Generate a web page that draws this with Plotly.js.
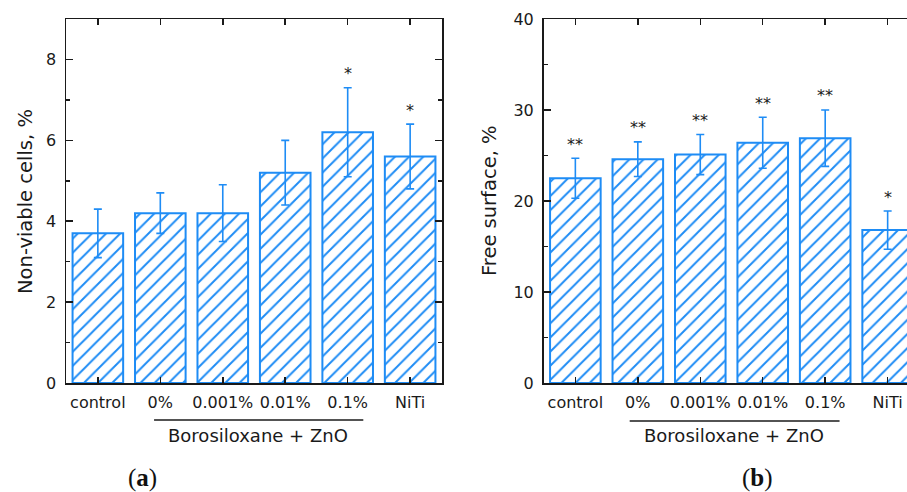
<!DOCTYPE html>
<html>
<head>
<meta charset="utf-8">
<script src="https://cdn.plot.ly/plotly-3.0.1.min.js"></script>
<style>
  html, body { margin: 0; padding: 0; overflow: hidden; background: #fff; }
  #chart { width: 930px; height: 492px; }
</style>
</head>
<body>
<div id="chart"></div>
<script>
// Sample groups (shared by both panels)
const categories = ['control', '0%', '0.001%', '0.01%', '0.1%', 'NiTi'];

// Panel (a): non-viable cells, %
const deadCells = [3.7, 4.2, 4.2, 5.2, 6.2, 5.6];
const deadCellsErr = [0.6, 0.5, 0.7, 0.8, 1.1, 0.8];
const deadCellsMarks = ['', '', '', '', '*', '*'];

// Panel (b): free surface, %
const freeSurface = [22.5, 24.6, 25.1, 26.4, 26.9, 16.8];
const freeSurfaceErr = [2.2, 1.9, 2.2, 2.8, 3.1, 2.1];
const freeSurfaceMarks = ['**', '**', '**', '**', '**', '*'];

const groupLabel = 'Borosiloxane + ZnO';

const W = 930, H = 492;
const BLUE = '#1e8cf5';
const INK = '#1a1a1a';
const TICK_FONT = { family: 'DejaVu Sans', size: 16, color: INK };
const px = v => v / W;
const py = v => 1 - v / H;

function barTrace(values, errs, xa, ya) {
  return {
    type: 'bar',
    x: categories,
    y: values,
    xaxis: xa, yaxis: ya,
    width: 0.81,
    marker: {
      color: '#ffffff',
      line: { color: BLUE, width: 2 },
      pattern: { shape: '/', fgcolor: BLUE, bgcolor: '#ffffff', size: 10, solidity: 0.2, fillmode: 'replace' }
    },
    error_y: { type: 'data', array: errs, visible: true, color: BLUE, thickness: 1.6, width: 4 },
    hoverinfo: 'x+y',
    showlegend: false
  };
}

function xAxis(domain, anchor) {
  return {
    domain: domain, anchor: anchor,
    type: 'category',
    range: [-0.51, 5.51],
    showline: true, linecolor: INK, linewidth: 1.5,
    mirror: 'allticks', ticks: 'inside', ticklen: 6, tickwidth: 1.5, tickcolor: INK,
    tickfont: TICK_FONT, ticklabelstandoff: 4,
    showgrid: false, zeroline: false, fixedrange: true, automargin: false
  };
}

function yAxis(domain, anchor, range, dtick) {
  return {
    domain: domain, anchor: anchor,
    range: range, dtick: dtick, tick0: 0,
    showline: true, linecolor: INK, linewidth: 1.5,
    mirror: 'allticks', ticks: 'inside', ticklen: 7, tickwidth: 1.5, tickcolor: INK,
    minor: { dtick: dtick / 2, ticks: 'inside', ticklen: 4, tickwidth: 1.5, tickcolor: INK, showgrid: false },
    tickfont: TICK_FONT, ticklabelstandoff: 5,
    showgrid: false, zeroline: false, fixedrange: true, automargin: false
  };
}

function starNotes(marks, values, errs, xref, yref) {
  return marks.map((m, i) => ({
    xref: xref, yref: yref, x: categories[i], y: values[i] + errs[i],
    text: m, showarrow: false, xanchor: 'center', yanchor: 'middle', yshift: 14,
    font: { family: 'DejaVu Sans', size: 16, color: INK }
  })).filter(a => a.text);
}

function textNote(xref, x, y, text, font, angle) {
  return { xref: xref, yref: 'paper', x: x, y: y, text: text, textangle: angle || 0,
    showarrow: false, xanchor: 'center', yanchor: 'middle', font: font };
}

const yDom = [py(383), py(19)];
const TITLE_FONT = { family: 'DejaVu Sans', size: 19.5, color: INK };
const GROUP_FONT = { family: 'DejaVu Sans', size: 18, color: INK };
const LETTER_FONT = { family: 'Liberation Serif', size: 25, color: '#111' };

const data = [
  barTrace(deadCells, deadCellsErr, 'x', 'y'),
  barTrace(freeSurface, freeSurfaceErr, 'x2', 'y2')
];

const annotations = [
  ...starNotes(deadCellsMarks, deadCells, deadCellsErr, 'x', 'y'),
  ...starNotes(freeSurfaceMarks, freeSurface, freeSurfaceErr, 'x2', 'y2'),
  // y-axis titles
  textNote('paper', px(25), py(202), 'Non-viable cells, %', TITLE_FONT, -90),
  textNote('paper', px(490), py(201), 'Free surface, %', TITLE_FONT, -90),
  // group labels under the bracket lines
  textNote('x', 2.57, py(435), groupLabel, GROUP_FONT),
  textNote('x2', 2.54, py(435), groupLabel, GROUP_FONT),
  // panel letters
  textNote('paper', px(142), py(478), '(<b>a</b>)', LETTER_FONT),
  textNote('paper', px(757), py(478), '(<b>b</b>)', LETTER_FONT)
];

const shapes = [
  { type: 'line', xref: 'x', yref: 'paper', x0: 0.9, x1: 4.25, y0: py(420), y1: py(420),
    line: { color: INK, width: 1.4 } },
  { type: 'line', xref: 'x2', yref: 'paper', x0: 0.87, x1: 4.23, y0: py(421), y1: py(421),
    line: { color: INK, width: 1.4 } }
];

const layout = {
  width: W, height: H,
  margin: { l: 0, r: 0, t: 0, b: 0 },
  paper_bgcolor: '#fff', plot_bgcolor: '#fff',
  xaxis: xAxis([px(66), px(442)], 'y'),
  yaxis: yAxis(yDom, 'x', [0, 9], 2),
  xaxis2: xAxis([px(543.5), px(919.5)], 'y2'),
  yaxis2: yAxis(yDom, 'x2', [0, 40], 10),
  annotations: annotations,
  shapes: shapes,
  bargap: 0.19
};

Plotly.newPlot('chart', data, layout, { displayModeBar: false, staticPlot: true });
</script>
</body>
</html>
